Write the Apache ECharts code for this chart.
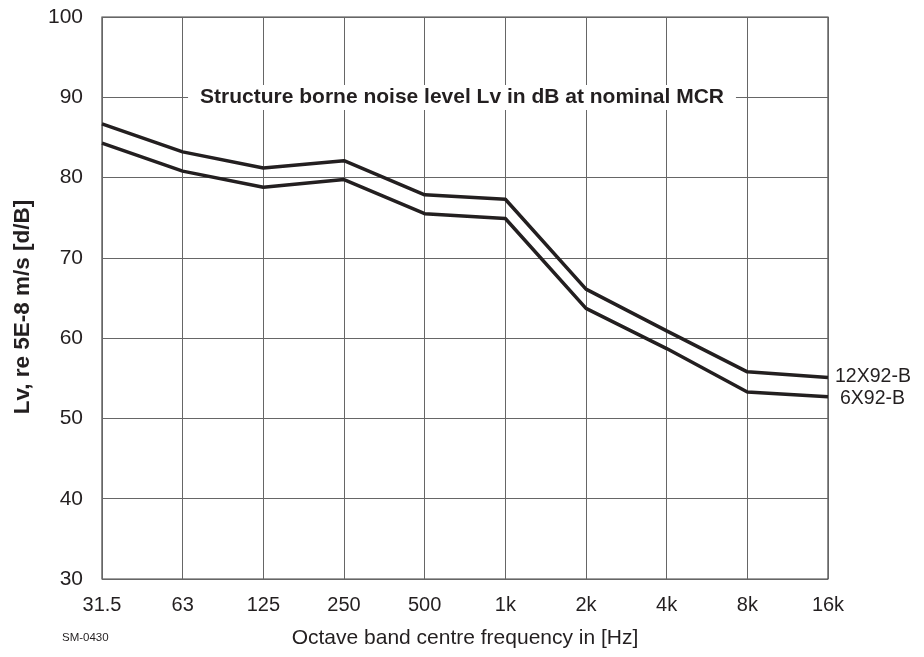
<!DOCTYPE html>
<html><head><meta charset="utf-8">
<script src="https://cdn.jsdelivr.net/npm/echarts@6/dist/echarts.min.js"></script>
<style>html,body{margin:0;padding:0;background:#fff}#c{width:924px;height:657px}</style>
</head><body><div id="c"></div>
<script>
var categories = ['31.5','63','125','250','500','1k','2k','4k','8k','16k'];
var s12X92 = [86.7, 83.2, 81.2, 82.1, 77.85, 77.3, 66.1, 60.9, 55.8, 55.1];
var s6X92 = [84.3, 80.8, 78.8, 79.75, 75.5, 74.9, 63.7, 58.7, 53.3, 52.7];
var yTicks = [30, 40, 50, 60, 70, 80, 90, 100];

var chart = echarts.init(document.getElementById('c'), null, {renderer:'canvas'});
var font = 'Liberation Sans, Arial, sans-serif';
chart.setOption({
  animation:false,
  backgroundColor:'#fff',
  grid:{left:102, right:96, top:17, bottom:78, show:true, borderColor:'#444', borderWidth:1.2},
  title:{
    text:'Structure borne noise level Lv in dB at nominal MCR',
    left:'center', top:85,
    backgroundColor:'#fff', padding:[2,12,2,12],
    textStyle:{fontFamily:font, fontSize:21, fontWeight:'bold', color:'#231f20'}
  },
  xAxis:{
    type:'category', data:categories, boundaryGap:false,
    axisLine:{show:false}, axisTick:{show:false},
    axisLabel:{fontFamily:font, fontSize:20, color:'#231f20', margin:16},
    splitLine:{show:true, lineStyle:{color:'#666', width:1}},
    name:'Octave band centre frequency in [Hz]', nameLocation:'middle', nameGap:49,
    nameTextStyle:{fontFamily:font, fontSize:21, color:'#231f20'}
  },
  yAxis:{
    type:'value', min:yTicks[0], max:yTicks[yTicks.length-1], interval:10,
    axisLine:{show:false}, axisTick:{show:false},
    axisLabel:{fontFamily:font, fontSize:21, color:'#231f20', margin:19},
    splitLine:{show:true, lineStyle:{color:'#666', width:1}}
  },
  graphic:[
    {type:'text', left:62, top:632, style:{text:'SM-0430', font:'11.5px Liberation Sans, Arial, sans-serif', fill:'#231f20'}},
    {type:'text', x:23, y:307, rotation:Math.PI/2,
     style:{text:'Lv, re 5E-8 m/s [d/B]', font:'bold 22.5px Liberation Sans, Arial, sans-serif', fill:'#231f20', align:'center', verticalAlign:'middle'}}
  ],
  series:[
    {name:'12X92-B', type:'line', data:s12X92, symbol:'none', z:5,
     lineStyle:{color:'#231f20', width:3.5},
     endLabel:{show:true, formatter:'{a}', fontFamily:font, fontSize:19.5, color:'#231f20', distance:7, offset:[0,-1]}},
    {name:'6X92-B', type:'line', data:s6X92, symbol:'none', z:5,
     lineStyle:{color:'#231f20', width:3.5},
     endLabel:{show:true, formatter:'{a}', fontFamily:font, fontSize:19.5, color:'#231f20', distance:12, offset:[0,2]}}
  ]
});
</script></body></html>
